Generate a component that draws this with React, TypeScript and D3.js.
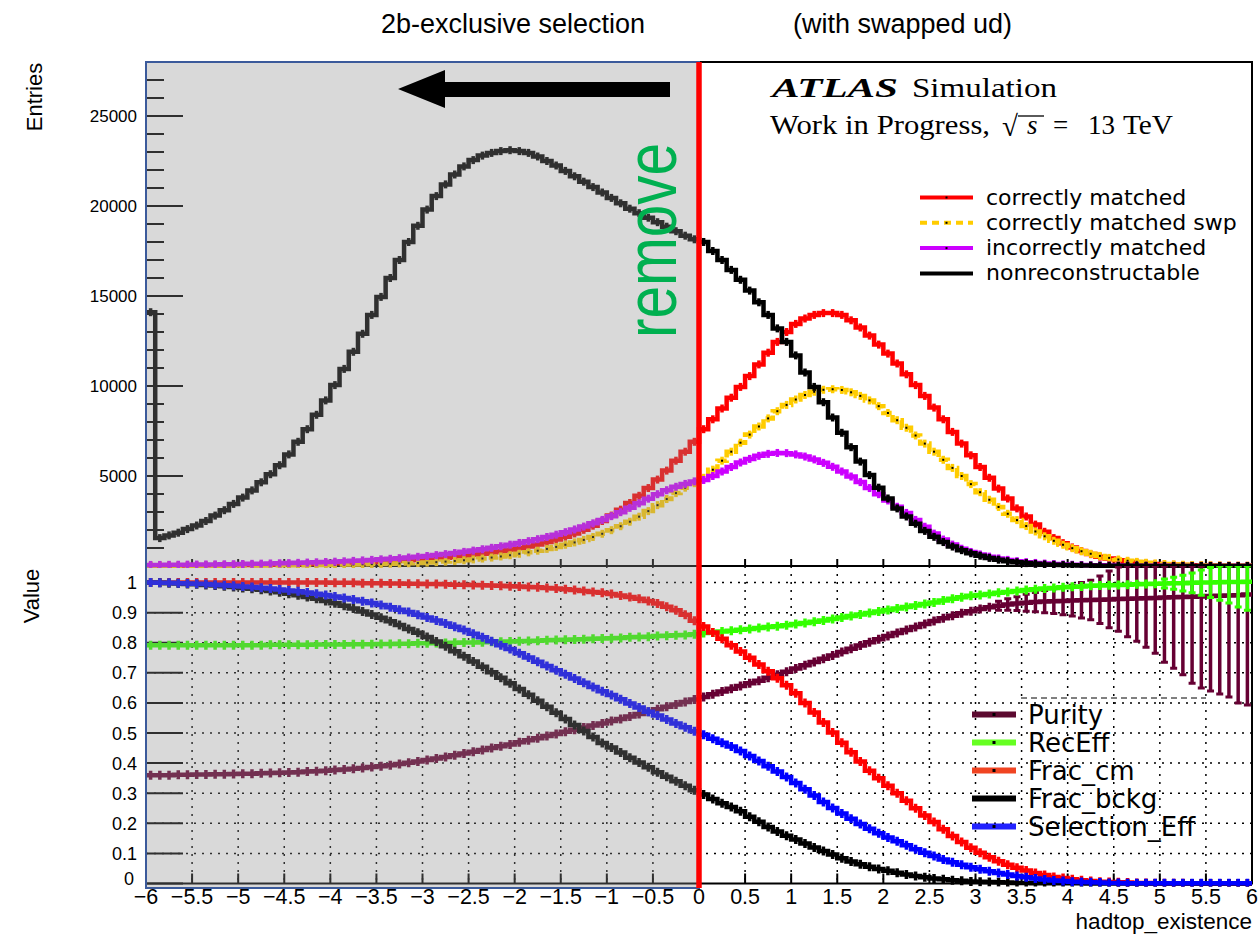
import React from "react";
import * as d3 from "d3";

// hadtop_existence binning: 120 bins between -6 and 6
const binLo = -6;
const binHi = 6;
const nBins = 120;
const bw = (binHi - binLo) / nBins;

// ---- upper pad: entries per bin ----
const correctlyMatched = [
  20, 20, 25, 25, 30, 30, 35, 40, 45, 50,
  55, 60, 65, 70, 80, 90, 100, 110, 120, 135,
  150, 165, 180, 200, 220, 240, 265, 290, 320, 350,
  380, 420, 460, 510, 560, 620, 680, 745, 820, 900,
  990, 1090, 1200, 1330, 1470, 1630, 1810, 2010, 2240, 2500,
  2800, 3130, 3500, 3900, 4330, 4800, 5300, 5850, 6350, 6900,
  7600, 8150, 8750, 9350, 9950, 10550, 11200, 11850, 12450, 13000,
  13450, 13750, 13950, 14050, 14050, 13950, 13650, 13250, 12800, 12300,
  11800, 11250, 10650, 10050, 9450, 8800, 8150, 7450, 6800, 6150,
  5500, 4900, 4300, 3750, 3200, 2750, 2300, 1900, 1550, 1270,
  1030, 830, 660, 520, 410, 320, 250, 195, 150, 115,
  90, 70, 55, 42, 33, 26, 20, 16, 12, 10,
];
const correctlyMatchedSwp = [
  10, 11, 12, 13, 14, 16, 17, 19, 21, 23,
  25, 28, 31, 34, 37, 41, 45, 50, 56, 62,
  70, 78, 86, 95, 105, 115, 127, 140, 155, 170,
  190, 215, 245, 280, 320, 365, 415, 470, 530, 600,
  680, 760, 850, 950, 1060, 1180, 1310, 1450, 1610, 1790,
  1990, 2210, 2460, 2740, 3050, 3380, 3720, 4050, 4350, 4600,
  4900, 5350, 5850, 6350, 6850, 7300, 7750, 8200, 8600, 8950,
  9250, 9500, 9680, 9790, 9820, 9780, 9650, 9450, 9200, 8880,
  8500, 8100, 7680, 7250, 6800, 6350, 5900, 5450, 5000, 4550,
  4100, 3680, 3280, 2900, 2550, 2220, 1920, 1650, 1400, 1180,
  990, 820, 680, 560, 450, 360, 290, 230, 180, 140,
  110, 90, 70, 55, 43, 34, 27, 21, 17, 13,
];
const incorrectlyMatched = [
  60, 60, 65, 70, 75, 80, 85, 90, 95, 100,
  110, 120, 130, 140, 150, 160, 175, 190, 205, 220,
  240, 260, 285, 310, 340, 370, 400, 435, 470, 510,
  555, 605, 660, 720, 785, 855, 930, 1010, 1095, 1185,
  1280, 1380, 1490, 1610, 1740, 1880, 2030, 2190, 2370, 2560,
  2770, 2990, 3230, 3480, 3740, 3990, 4210, 4400, 4560, 4700,
  4780, 5000, 5250, 5500, 5750, 5950, 6120, 6230, 6280, 6270,
  6200, 6080, 5920, 5730, 5510, 5250, 4970, 4660, 4330, 3990,
  3640, 3290, 2950, 2560, 2180, 1800, 1470, 1190, 960, 780,
  640, 520, 420, 340, 270, 215, 170, 135, 105, 85,
  68, 54, 43, 35, 28, 22, 18, 14, 11, 9,
  7, 6, 5, 4, 3, 3, 2, 2, 2, 1,
];
const nonReconstructable = [
  14100, 1550, 1700, 1850, 2050, 2250, 2500, 2800, 3100, 3450,
  3800, 4200, 4650, 5100, 5600, 6200, 6900, 7600, 8400, 9200,
  10050, 10950, 11900, 12900, 13950, 14950, 16000, 17000, 18000, 18900,
  19800, 20550, 21200, 21750, 22200, 22550, 22800, 22950, 23050, 23100,
  23050, 22950, 22750, 22500, 22250, 21950, 21650, 21350, 21050, 20750,
  20450, 20150, 19850, 19600, 19350, 19100, 18850, 18600, 18350, 18150,
  18000, 17500, 17000, 16450, 15900, 15300, 14650, 13950, 13200, 12450,
  11700, 10750, 9950, 9100, 8250, 7400, 6600, 5800, 5050, 4350,
  3750, 3200, 2750, 2350, 1950, 1620, 1330, 1080, 880, 710,
  570, 450, 350, 270, 210, 160, 120, 90, 70, 50,
  40, 30, 25, 20, 15, 12, 10, 8, 6, 5,
  4, 3, 3, 2, 2, 1, 1, 1, 1, 1,
];

// ---- lower pad: ratios per bin ----
const purity = [
  0.360, 0.360, 0.360, 0.361, 0.361, 0.362, 0.362, 0.363, 0.363, 0.364,
  0.365, 0.365, 0.366, 0.367, 0.368, 0.369, 0.370, 0.372, 0.373, 0.375,
  0.377, 0.379, 0.381, 0.384, 0.387, 0.390, 0.393, 0.397, 0.401, 0.405,
  0.410, 0.415, 0.420, 0.426, 0.432, 0.438, 0.444, 0.450, 0.456, 0.462,
  0.469, 0.476, 0.483, 0.490, 0.497, 0.504, 0.511, 0.518, 0.525, 0.532,
  0.540, 0.547, 0.555, 0.563, 0.571, 0.579, 0.587, 0.595, 0.603, 0.611,
  0.620, 0.629, 0.638, 0.647, 0.656, 0.665, 0.674, 0.684, 0.694, 0.704,
  0.714, 0.725, 0.736, 0.747, 0.758, 0.769, 0.780, 0.791, 0.802, 0.812,
  0.822, 0.832, 0.842, 0.852, 0.862, 0.872, 0.881, 0.890, 0.898, 0.905,
  0.912, 0.918, 0.923, 0.927, 0.930, 0.933, 0.935, 0.937, 0.938, 0.939,
  0.940, 0.941, 0.942, 0.943, 0.944, 0.945, 0.946, 0.947, 0.948, 0.949,
  0.950, 0.951, 0.952, 0.953, 0.954, 0.955, 0.956, 0.957, 0.958, 0.960,
];
const purityErr = [
  0.003, 0.003, 0.003, 0.003, 0.003, 0.003, 0.003, 0.003, 0.003, 0.003,
  0.003, 0.003, 0.003, 0.003, 0.003, 0.003, 0.003, 0.003, 0.003, 0.003,
  0.003, 0.003, 0.003, 0.003, 0.003, 0.003, 0.003, 0.003, 0.003, 0.003,
  0.003, 0.003, 0.003, 0.003, 0.003, 0.003, 0.003, 0.003, 0.003, 0.003,
  0.003, 0.003, 0.003, 0.003, 0.003, 0.003, 0.003, 0.003, 0.003, 0.003,
  0.003, 0.003, 0.003, 0.003, 0.003, 0.003, 0.003, 0.003, 0.003, 0.003,
  0.004, 0.004, 0.004, 0.004, 0.004, 0.004, 0.004, 0.004, 0.004, 0.004,
  0.004, 0.004, 0.004, 0.004, 0.004, 0.004, 0.004, 0.004, 0.004, 0.004,
  0.004, 0.004, 0.004, 0.004, 0.004, 0.005, 0.006, 0.007, 0.008, 0.009,
  0.010, 0.012, 0.015, 0.019, 0.023, 0.028, 0.032, 0.037, 0.041, 0.046,
  0.051, 0.059, 0.066, 0.079, 0.094, 0.107, 0.126, 0.142, 0.163, 0.184,
  0.215, 0.236, 0.258, 0.288, 0.304, 0.315, 0.326, 0.337, 0.358, 0.367,
];
const recEff = [
  0.792, 0.792, 0.792, 0.792, 0.792, 0.792, 0.792, 0.792, 0.792, 0.792,
  0.792, 0.792, 0.792, 0.793, 0.793, 0.793, 0.793, 0.793, 0.794, 0.794,
  0.794, 0.794, 0.795, 0.795, 0.795, 0.796, 0.796, 0.797, 0.797, 0.798,
  0.798, 0.799, 0.799, 0.800, 0.801, 0.801, 0.802, 0.803, 0.803, 0.804,
  0.805, 0.806, 0.807, 0.808, 0.809, 0.810, 0.811, 0.812, 0.813, 0.814,
  0.815, 0.816, 0.818, 0.819, 0.820, 0.822, 0.823, 0.825, 0.826, 0.828,
  0.832, 0.834, 0.837, 0.840, 0.843, 0.846, 0.849, 0.852, 0.855, 0.858,
  0.862, 0.866, 0.870, 0.874, 0.879, 0.884, 0.889, 0.894, 0.899, 0.904,
  0.909, 0.914, 0.919, 0.924, 0.929, 0.934, 0.940, 0.946, 0.951, 0.956,
  0.959, 0.962, 0.966, 0.969, 0.972, 0.975, 0.978, 0.980, 0.982, 0.984,
  0.986, 0.987, 0.989, 0.990, 0.991, 0.992, 0.993, 0.994, 0.995, 0.996,
  0.997, 0.998, 0.998, 0.999, 1.000, 1.000, 1.001, 1.002, 1.002, 1.003,
];
const recEffErr = [
  0.002, 0.002, 0.002, 0.002, 0.002, 0.002, 0.002, 0.002, 0.002, 0.002,
  0.002, 0.002, 0.002, 0.002, 0.002, 0.002, 0.002, 0.002, 0.002, 0.002,
  0.002, 0.002, 0.002, 0.002, 0.002, 0.002, 0.002, 0.002, 0.002, 0.002,
  0.002, 0.002, 0.002, 0.002, 0.002, 0.002, 0.002, 0.002, 0.002, 0.002,
  0.002, 0.002, 0.002, 0.002, 0.002, 0.002, 0.002, 0.002, 0.002, 0.002,
  0.002, 0.002, 0.002, 0.002, 0.002, 0.002, 0.002, 0.002, 0.002, 0.002,
  0.002, 0.002, 0.002, 0.002, 0.002, 0.002, 0.002, 0.002, 0.002, 0.002,
  0.002, 0.002, 0.002, 0.002, 0.002, 0.002, 0.002, 0.002, 0.002, 0.002,
  0.002, 0.002, 0.002, 0.002, 0.002, 0.002, 0.002, 0.002, 0.002, 0.002,
  0.002, 0.002, 0.002, 0.002, 0.002, 0.002, 0.002, 0.002, 0.002, 0.002,
  0.002, 0.003, 0.003, 0.003, 0.004, 0.005, 0.006, 0.008, 0.010, 0.012,
  0.015, 0.020, 0.026, 0.033, 0.042, 0.050, 0.060, 0.070, 0.083, 0.095,
];
const fracCm = [
  1.000, 1.000, 1.000, 1.000, 1.000, 1.000, 1.000, 1.000, 1.000, 1.000,
  1.000, 1.000, 1.000, 1.000, 1.000, 1.000, 1.000, 1.000, 1.000, 1.000,
  0.999, 0.999, 0.999, 0.998, 0.998, 0.998, 0.997, 0.997, 0.996, 0.996,
  0.995, 0.995, 0.994, 0.993, 0.993, 0.992, 0.991, 0.990, 0.989, 0.988,
  0.987, 0.985, 0.984, 0.982, 0.980, 0.978, 0.975, 0.972, 0.969, 0.966,
  0.962, 0.957, 0.952, 0.946, 0.939, 0.930, 0.920, 0.908, 0.893, 0.873,
  0.854, 0.834, 0.813, 0.792, 0.771, 0.750, 0.728, 0.705, 0.682, 0.659,
  0.632, 0.600, 0.568, 0.535, 0.502, 0.468, 0.436, 0.405, 0.375, 0.350,
  0.325, 0.300, 0.275, 0.250, 0.226, 0.204, 0.180, 0.158, 0.138, 0.119,
  0.102, 0.087, 0.074, 0.062, 0.052, 0.043, 0.035, 0.028, 0.022, 0.018,
  0.014, 0.011, 0.008, 0.006, 0.005, 0.004, 0.003, 0.002, 0.002, 0.001,
  0.001, 0.001, 0.001, 0.000, 0.000, 0.000, 0.000, 0.000, 0.000, 0.000,
];
const fracBckg = [
  1.000, 0.999, 0.998, 0.997, 0.995, 0.994, 0.992, 0.990, 0.988, 0.985,
  0.982, 0.979, 0.976, 0.972, 0.968, 0.963, 0.958, 0.952, 0.946, 0.939,
  0.931, 0.923, 0.914, 0.904, 0.894, 0.883, 0.871, 0.859, 0.846, 0.833,
  0.819, 0.804, 0.788, 0.772, 0.755, 0.738, 0.720, 0.702, 0.684, 0.665,
  0.646, 0.627, 0.607, 0.587, 0.567, 0.547, 0.527, 0.507, 0.487, 0.467,
  0.452, 0.435, 0.418, 0.402, 0.386, 0.370, 0.355, 0.340, 0.325, 0.310,
  0.296, 0.281, 0.267, 0.254, 0.240, 0.222, 0.205, 0.188, 0.173, 0.159,
  0.146, 0.133, 0.120, 0.108, 0.096, 0.084, 0.073, 0.064, 0.056, 0.048,
  0.042, 0.036, 0.030, 0.025, 0.021, 0.017, 0.014, 0.011, 0.009, 0.007,
  0.006, 0.005, 0.004, 0.003, 0.002, 0.002, 0.001, 0.001, 0.001, 0.001,
  0.001, 0.001, 0.000, 0.000, 0.000, 0.000, 0.000, 0.000, 0.000, 0.000,
  0.000, 0.000, 0.000, 0.000, 0.000, 0.000, 0.000, 0.000, 0.000, 0.000,
];
const selectionEff = [
  1.000, 0.999, 0.999, 0.998, 0.997, 0.996, 0.995, 0.993, 0.991, 0.989,
  0.987, 0.985, 0.983, 0.980, 0.977, 0.974, 0.971, 0.967, 0.963, 0.959,
  0.954, 0.949, 0.944, 0.938, 0.932, 0.925, 0.918, 0.910, 0.902, 0.893,
  0.884, 0.874, 0.864, 0.853, 0.842, 0.830, 0.818, 0.805, 0.792, 0.779,
  0.765, 0.751, 0.737, 0.723, 0.709, 0.695, 0.681, 0.667, 0.653, 0.639,
  0.626, 0.612, 0.598, 0.585, 0.571, 0.558, 0.545, 0.532, 0.519, 0.506,
  0.494, 0.481, 0.468, 0.455, 0.440, 0.424, 0.407, 0.390, 0.372, 0.354,
  0.334, 0.313, 0.292, 0.271, 0.251, 0.233, 0.215, 0.198, 0.182, 0.167,
  0.153, 0.140, 0.127, 0.114, 0.102, 0.091, 0.080, 0.071, 0.062, 0.054,
  0.047, 0.041, 0.035, 0.030, 0.025, 0.021, 0.017, 0.013, 0.010, 0.008,
  0.006, 0.005, 0.004, 0.003, 0.002, 0.002, 0.001, 0.001, 0.001, 0.001,
  0.001, 0.001, 0.001, 0.001, 0.001, 0.001, 0.001, 0.001, 0.001, 0.001,
];

const xTickValues = [
  -6, -5.5, -5, -4.5, -4, -3.5, -3, -2.5, -2, -1.5, -1, -0.5,
  0, 0.5, 1, 1.5, 2, 2.5, 3, 3.5, 4, 4.5, 5, 5.5, 6,
];
const entriesTicks = [5000, 10000, 15000, 20000, 25000];
const valueTicks = [0, 0.1, 0.2, 0.3, 0.4, 0.5, 0.6, 0.7, 0.8, 0.9, 1];

const topLegend = [
  { label: "correctly matched", color: "#ff0000", dash: null, dot: true },
  { label: "correctly matched swp", color: "#ffcc00", dash: "7,5", dot: true },
  { label: "incorrectly matched", color: "#cc00ff", dash: null, dot: true },
  { label: "nonreconstructable", color: "#000000", dash: null, dot: false },
];
const bottomLegend = [
  { label: "Purity", color: "#5c0a30" },
  { label: "RecEff", color: "#66ff22" },
  { label: "Frac_cm", color: "#f04422" },
  { label: "Frac_bckg", color: "#000000" },
  { label: "Selection_Eff", color: "#2222ff" },
];

// frame geometry
const left = 146;
const right = 1252;
const top = 62;
const split = 566;
const bottom = 883.5;
const yMaxLow = 1.055;

const x = d3.scaleLinear().domain([binLo, binHi]).range([left, right]);
const yTop = d3.scaleLinear().domain([0, 28000]).range([split, top]);
const yBot = d3.scaleLinear().domain([0, yMaxLow]).range([bottom, split]);

const sans = "'Liberation Sans', Arial, Helvetica, sans-serif";
const dejavu = "'DejaVu Sans', 'Liberation Sans', sans-serif";
const serif = "'Liberation Serif', 'Times New Roman', serif";

const fmtX = (v: number) => (v < 0 ? "\u2212" + Math.abs(v) : String(v));

function stepPath(values: number[], y: d3.ScaleLinear<number, number>) {
  const pts: [number, number][] = values.map((v, i) => [x(binLo + i * bw), y(v)]);
  pts.push([x(binHi), y(values[values.length - 1])]);
  return d3.line().curve(d3.curveStepAfter)(pts) || "";
}

const Hist = ({ values, color, dash }: { values: number[]; color: string; dash?: string }) => (
  <g>
    <path d={stepPath(values, yTop)} fill="none" stroke={color} strokeWidth={4.5} strokeDasharray={dash} />
    {values.map((v, i) => {
      const cx = x(binLo + (i + 0.5) * bw);
      const cy = yTop(v);
      return (
        <line key={i} x1={cx} x2={cx} y1={cy - 4} y2={cy + 4} stroke={color} strokeWidth={3.5} />
      );
    })}
    {dash &&
      values.map((v, i) => (
        <rect key={"d" + i} x={x(binLo + (i + 0.5) * bw) - 1} y={yTop(v) - 1} width={2} height={2} fill="#000" />
      ))}
  </g>
);

const Ratio = ({ values, errs, color }: { values: number[]; errs?: number[]; color: string }) => (
  <g>
    <path d={stepPath(values, yBot)} fill="none" stroke={color} strokeWidth={4.5} />
    {values.map((v, i) => {
      const cx = x(binLo + (i + 0.5) * bw);
      const e = errs ? errs[i] : 0;
      const hi = yBot(Math.min(v + e, yMaxLow));
      const lo = yBot(Math.max(v - e, 0));
      const big = lo - hi > 9;
      const cy = yBot(v);
      return (
        <g key={i}>
          <line x1={cx} x2={cx} y1={big ? hi : cy - 4.5} y2={big ? lo : cy + 4.5} stroke={color} strokeWidth={3.5} />
          {big && <line x1={cx - 3.5} x2={cx + 3.5} y1={hi} y2={hi} stroke={color} strokeWidth={3} />}
          {big && <line x1={cx - 3.5} x2={cx + 3.5} y1={lo} y2={lo} stroke={color} strokeWidth={3} />}
        </g>
      );
    })}
  </g>
);

const App = () => {
  const minorEntries = d3.range(1000, 28000, 1000);
  return (
    <svg
      width={1259}
      height={934}
      style={{ position: "absolute", left: 0, top: 0, background: "#fff" }}
    >
      <defs>
        <clipPath id="clipTop">
          <rect x={left} y={top - 2} width={right - left} height={split - top + 4} />
        </clipPath>
        <clipPath id="clipBot">
          <rect x={left} y={split} width={right - left} height={bottom - split + 3} />
        </clipPath>
      </defs>
      <rect x={0} y={0} width={1259} height={934} fill="#fff" />

      {/* lower pad grid */}
      <g stroke="#000" strokeWidth={1.5} strokeDasharray="2,6">
        {xTickValues.slice(1, -1).map((t) => (
          <line key={"gx" + t} x1={x(t)} x2={x(t)} y1={split} y2={bottom} />
        ))}
        {valueTicks.slice(1).map((t) => (
          <line key={"gy" + t} x1={left} x2={right} y1={yBot(t)} y2={yBot(t)} />
        ))}
      </g>

      {/* frames and ticks */}
      <g stroke="#000" strokeWidth={2} fill="none">
        <rect x={left} y={top} width={right - left} height={split - top} />
        <rect x={left} y={split} width={right - left} height={bottom - split} />
        {minorEntries.map((t) => (
          <line key={"ty" + t} x1={left} x2={left + (t % 5000 === 0 ? 37 : 18)} y1={yTop(t)} y2={yTop(t)} />
        ))}
        {valueTicks.map((t) => (
          <line key={"by" + t} x1={left} x2={left + 37} y1={yBot(t)} y2={yBot(t)} />
        ))}
        {xTickValues.map((t) => (
          <line key={"tx" + t} x1={x(t)} x2={x(t)} y1={split} y2={split - 7} />
        ))}
        {xTickValues.map((t) => (
          <line key={"bx" + t} x1={x(t)} x2={x(t)} y1={bottom} y2={bottom - 10} />
        ))}
      </g>

      {/* upper pad histograms */}
      <g clipPath="url(#clipTop)">
        <Hist values={correctlyMatched} color="#ff0000" />
        <Hist values={correctlyMatchedSwp} color="#ffcc00" dash="10,3" />
        <Hist values={incorrectlyMatched} color="#cc00ff" />
        <Hist values={nonReconstructable} color="#000000" />
      </g>

      {/* lower pad ratios */}
      <g clipPath="url(#clipBot)">
        <Ratio values={purity} errs={purityErr} color="#660033" />
        <Ratio values={recEff} errs={recEffErr} color="#33ff00" />
        <Ratio values={fracCm} color="#ff0000" />
        <Ratio values={fracBckg} color="#000000" />
        <Ratio values={selectionEff} color="#0000ff" />
      </g>

      {/* upper legend */}
      {topLegend.map((d, i) => {
        const ly = 197.5 + i * 25.3;
        return (
          <g key={d.label}>
            <line x1={920} x2={973} y1={ly} y2={ly} stroke={d.color} strokeWidth={4} strokeDasharray={d.dash || undefined} />
            {d.dot && <rect x={945.5} y={ly - 1} width={2} height={2} fill="#000" />}
            <text x={986} y={ly + 7} fontFamily={dejavu} fontSize={22} fill="#000">
              {d.label}
            </text>
          </g>
        );
      })}

      {/* lower legend */}
      <line x1={1021} x2={1206} y1={698} y2={698} stroke="#000" strokeWidth={1} strokeDasharray="6,4" />
      {bottomLegend.map((d, i) => {
        const ly = 714.5 + i * 28;
        return (
          <g key={d.label}>
            <rect x={972} y={ly - 3} width={44} height={6} fill={d.color} />
            <rect x={992.5} y={ly - 1.5} width={3} height={3} fill="#000" />
            <text x={1028} y={ly + 9} fontFamily={dejavu} fontSize={26} fill="#000">
              {d.label}
            </text>
          </g>
        );
      })}

      {/* ATLAS label */}
      <text x={772} y={97} fontFamily={serif} fontSize={27} fontWeight="bold" fontStyle="italic" textLength={126} lengthAdjust="spacingAndGlyphs">
        ATLAS
      </text>
      <text x={912} y={97} fontFamily={serif} fontSize={27} textLength={145} lengthAdjust="spacingAndGlyphs">
        Simulation
      </text>
      <text x={770} y={134} fontFamily={serif} fontSize={27} textLength={220} lengthAdjust="spacingAndGlyphs">
        Work in Progress,
      </text>
      <text x={1002} y={136} fontFamily={serif} fontSize={29}>
        {"\u221A"}
      </text>
      <line x1={1018} x2={1044} y1={116} y2={116} stroke="#000" strokeWidth={1.3} />
      <text x={1027} y={134} fontFamily={serif} fontSize={27} fontStyle="italic">
        s
      </text>
      <text x={1053} y={134} fontFamily={serif} fontSize={27}>
        =
      </text>
      <text x={1088} y={134} fontFamily={serif} fontSize={27}>
        13
      </text>
      <text x={1123} y={134} fontFamily={serif} fontSize={27} textLength={50} lengthAdjust="spacingAndGlyphs">
        TeV
      </text>

      {/* removed region overlay */}
      <rect
        x={left}
        y={top}
        width={x(0) - left}
        height={888 - top}
        fill="rgb(142,142,142)"
        fillOpacity={0.337}
        stroke="#3b5a9b"
        strokeWidth={2}
      />
      <line x1={x(0)} x2={x(0)} y1={top} y2={888} stroke="#ff0000" strokeWidth={5.5} />
      <path d="M398,89 L445,70 L445,82 L670,82 L670,97 L445,97 L445,108 Z" fill="#000" />
      <text
        transform="translate(676,338) rotate(-90)"
        fontFamily={sans}
        fontSize={72}
        fill="#00b050"
        textLength={195}
        lengthAdjust="spacingAndGlyphs"
      >
        remove
      </text>

      {/* axis labels */}
      <g fontFamily={sans} fill="#000">
        {entriesTicks.map((t) => (
          <text key={"el" + t} x={137} y={yTop(t) + 6} fontSize={17} textAnchor="end">
            {t}
          </text>
        ))}
        {valueTicks.map((t) => (
          <text key={"vl" + t} x={t === 0 ? 134 : 137} y={yBot(t) + (t === 0 ? 1.5 : 6.5)} fontSize={18} textAnchor="end">
            {String(t)}
          </text>
        ))}
        {xTickValues.map((t) => (
          <text key={"xl" + t} x={x(t)} y={904} fontSize={21.5} textAnchor="middle">
            {fmtX(t)}
          </text>
        ))}
        <text x={1252} y={929} fontSize={22.5} textAnchor="end">
          hadtop_existence
        </text>
        <text transform="translate(42,97) rotate(-90)" fontSize={22} textAnchor="middle">
          Entries
        </text>
        <text transform="translate(39,596) rotate(-90)" fontSize={22} textAnchor="middle">
          Value
        </text>
        <text x={381} y={33} fontSize={27}>
          2b-exclusive selection
        </text>
        <text x={793} y={33} fontSize={27}>
          (with swapped ud)
        </text>
      </g>
    </svg>
  );
};

export default App;
